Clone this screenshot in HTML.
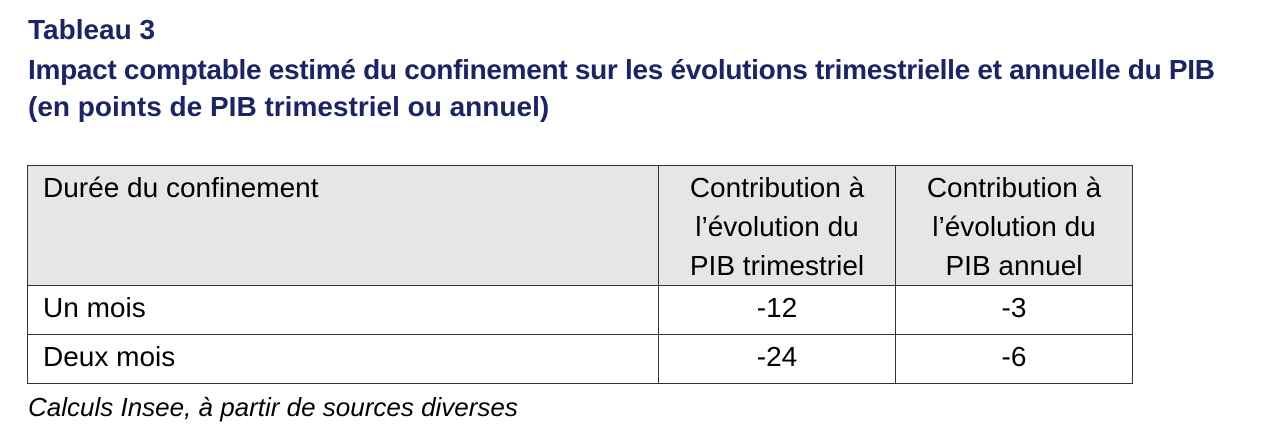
<!DOCTYPE html>
<html><head><meta charset="utf-8"><style>
body{margin:0;width:1265px;height:439px;background:#fff;position:relative;overflow:hidden;font-family:"Liberation Sans",sans-serif}
.t{position:absolute;left:28px;color:#1b2466;font-weight:bold;font-size:28px;white-space:nowrap;line-height:32px}
table{position:absolute;left:27px;top:165px;border-collapse:collapse;font-size:28px;color:#000}
td{border:1.5px solid #333;padding:0;vertical-align:top;white-space:nowrap}
thead td{background:#e6e6e6;height:117px;line-height:39px;padding-top:2px}
tbody td{height:48px;line-height:44px}
.c{text-align:center}
.cap{position:absolute;left:28px;top:392px;font-style:italic;font-size:26px;color:#000;white-space:nowrap}
</style></head><body>
<div class="t" style="top:14px">Tableau 3</div>
<div class="t" style="top:54px;letter-spacing:-0.3px">Impact comptable estimé du confinement sur les évolutions trimestrielle et annuelle du PIB</div>
<div class="t" style="top:91px">(en points de PIB trimestriel ou annuel)</div>
<table>
<thead><tr>
<td style="width:615px;padding-left:15px">Durée du confinement</td>
<td class="c" style="width:236px">Contribution à<br>l’évolution du<br>PIB trimestriel</td>
<td class="c" style="width:236px">Contribution à<br>l’évolution du<br>PIB annuel</td>
</tr></thead>
<tbody>
<tr><td style="padding-left:15px">Un mois</td><td class="c">-12</td><td class="c">-3</td></tr>
<tr><td style="padding-left:15px">Deux mois</td><td class="c">-24</td><td class="c">-6</td></tr>
</tbody></table>
<div class="cap">Calculs Insee, à partir de sources diverses</div>
</body></html>
